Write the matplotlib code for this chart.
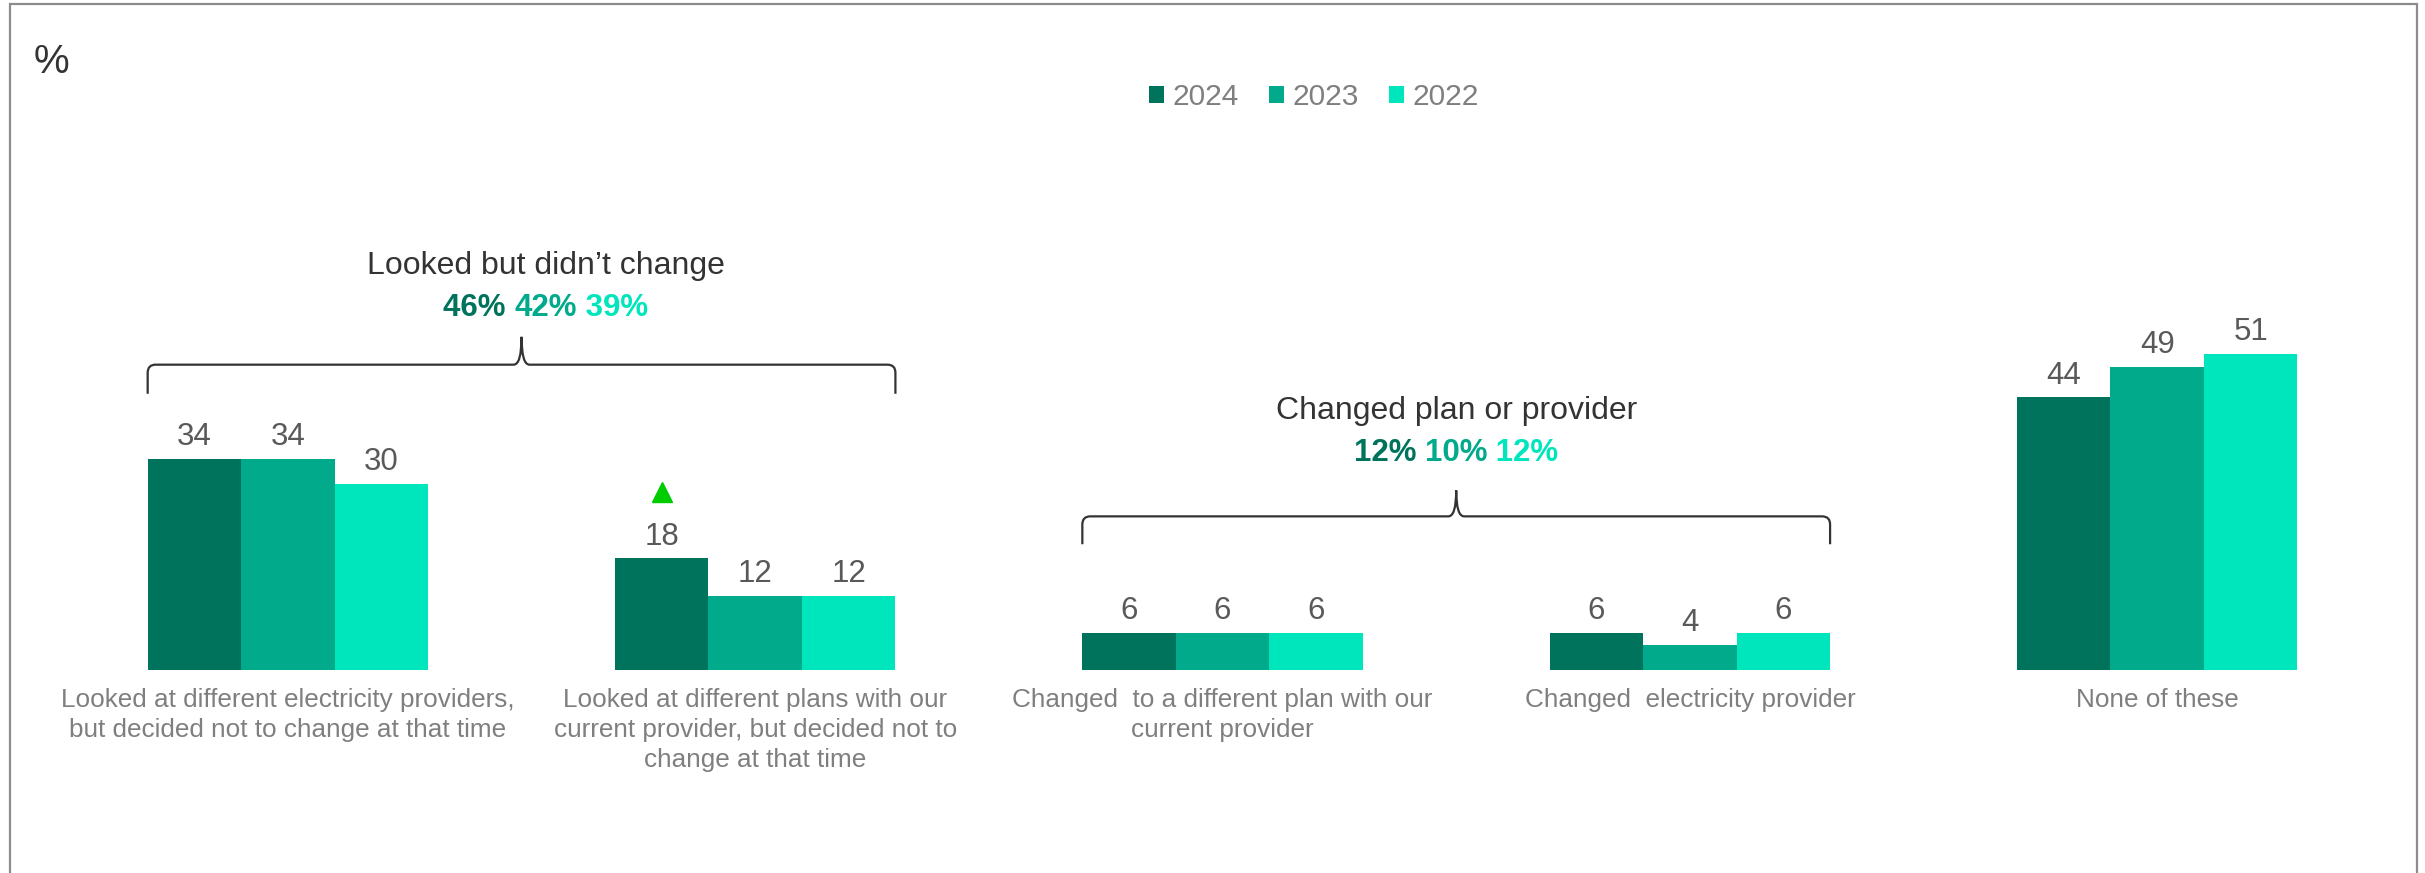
"""
Electricity plan / provider switching behaviour, 2022-2024
"""
import numpy as np
import matplotlib
matplotlib.use('Agg')
import matplotlib.pyplot as plt
from matplotlib.path import Path
from matplotlib.patches import PathPatch, Rectangle
from matplotlib.transforms import offset_copy

plt.rcParams['font.family'] = ['Liberation Sans', 'DejaVu Sans']

categories = [
    'Looked at different electricity providers,\nbut decided not to change at that time',
    'Looked at different plans with our\ncurrent provider, but decided not to\nchange at that time',
    'Changed  to a different plan with our\ncurrent provider',
    'Changed  electricity provider',
    'None of these',
]
years = ['2024', '2023', '2022']
v2024 = [34, 18, 6, 6, 44]
v2023 = [34, 12, 6, 4, 49]
v2022 = [30, 12, 6, 6, 51]
colors = ['#00735d', '#00aa8b', '#00e6bc']

# groups with a net figure above a brace
net_titles = ["Looked but didn\u2019t change", 'Changed plan or provider']
net_values = [[46, 42, 39], [12, 10, 12]]
net_groups = [(0, 1), (2, 3)]

# significant increase marker (series index, category index)
sig_up = [(0, 1)]

fig = plt.figure(figsize=(24.25, 8.73), dpi=100)
ax = fig.add_axes([0, 0, 1, 1])
ax.set_xlim(-0.616, 4.573)
ax.set_ylim(-32.8, 108.2)
ax.axis('off')

x = np.arange(len(categories))
w = 0.2
series = [v2024, v2023, v2022]
bars = []
for i, vals in enumerate(series):
    b = ax.bar(x + (i - 1) * w, vals, w, color=colors[i], label=years[i], linewidth=0)
    bars.append(b)
    ax.bar_label(b, labels=[str(v) for v in vals], padding=5, fontsize=22.5, color='#595959')

# category labels
for xi, lab in zip(x, categories):
    ax.annotate(lab, (xi, 0), xytext=(0, -13), textcoords='offset points',
                ha='center', va='top', fontsize=18.8, color='#7f7f7f', linespacing=1.32)

# significance triangles
for si, ci in sig_up:
    tr = offset_copy(ax.transData, fig=fig, x=0, y=66, units='dots')
    ax.plot(ci + (si - 1) * w, series[si][ci], marker='^', ms=15, color='#00cc00',
            linestyle='none', transform=tr)


def brace(x0, x1, yb, yh, yt):
    xm = (x0 + x1) / 2
    rx, ry = 0.017, 1.3
    verts = [(x0, yb), (x0, yh - ry), (x0, yh), (x0 + rx, yh), (xm - rx, yh),
             (xm, yh), (xm, yt), (xm, yh), (xm + rx, yh), (x1 - rx, yh),
             (x1, yh), (x1, yh - ry), (x1, yb)]
    codes = [Path.MOVETO, Path.LINETO, Path.CURVE3, Path.CURVE3, Path.LINETO,
             Path.CURVE3, Path.CURVE3, Path.CURVE3, Path.CURVE3, Path.LINETO,
             Path.CURVE3, Path.CURVE3, Path.LINETO]
    ax.add_patch(PathPatch(Path(verts, codes), fill=False, edgecolor='#333333', lw=1.6))


brace_y = [(44.6, 49.3, 53.8), (20.3, 24.8, 29.0)]
title_y = [65.3, 41.8]
for (g0, g1), title, nv, (yb, yh, yt), ty in zip(net_groups, net_titles, net_values, brace_y, title_y):
    x0, x1 = g0 - 1.5 * w, g1 + 1.5 * w
    brace(x0, x1, yb, yh, yt)
    xc = (x0 + x1) / 2 + 0.052 * (g0 == 0)
    ax.text(xc, ty, title, ha='center', va='center', fontsize=23, color='#333333')
    py = ty - 6.8
    mid = ax.annotate(f'{nv[1]}%', (xc, py), ha='center', va='center', fontsize=22.5,
                      fontweight='bold', color=colors[1])
    ax.annotate(f'{nv[0]}% ', (0, 0.5), xycoords=mid, ha='right', va='center', fontsize=22.5,
                fontweight='bold', color=colors[0])
    ax.annotate(f' {nv[2]}%', (1, 0.5), xycoords=mid, ha='left', va='center', fontsize=22.5,
                fontweight='bold', color=colors[2])

fig.text(34 / 2425, 1 - 62 / 873, '%', fontsize=29, color='#333333', va='center', ha='left')

fig.legend(handles=bars, labels=years, loc='center', bbox_to_anchor=(0.5418, 0.889),
           ncol=3, frameon=False, fontsize=21.5, labelcolor='#7f7f7f',
           handlelength=0.5, handleheight=0.5, handletextpad=0.3, columnspacing=1.0)

fig.patches.append(Rectangle((10 / 2425, -0.02), (2417 - 10) / 2425, 1.02 - 4 / 873,
                             transform=fig.transFigure, fill=False, edgecolor='#8c8c8c', lw=1.6))

fig.savefig('out.png', dpi=100)
